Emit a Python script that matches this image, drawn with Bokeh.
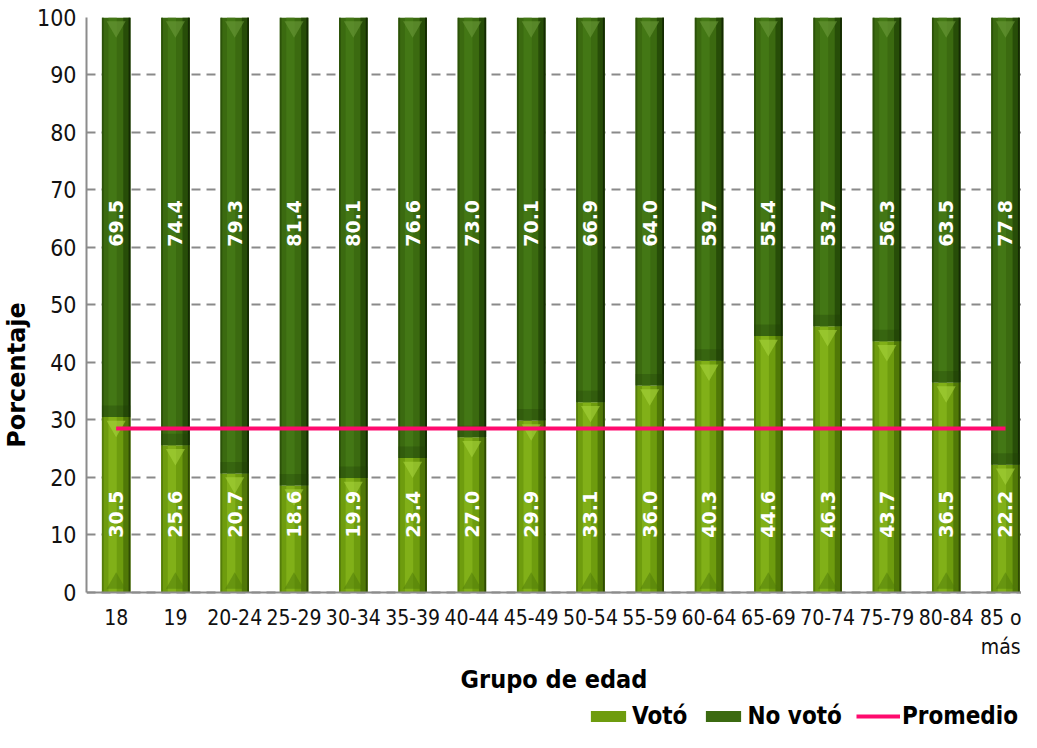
import math
from bokeh.plotting import figure
from bokeh.models import ColumnDataSource, Legend, LegendItem, Range1d
from bokeh.transform import dodge
from bokeh.core.properties import value
from bokeh.embed import file_html
from bokeh.resources import INLINE

grupos = ["18", "19", "20-24", "25-29", "30-34", "35-39", "40-44", "45-49",
          "50-54", "55-59", "60-64", "65-69", "70-74", "75-79", "80-84", "85 o más"]
voto = [30.5, 25.6, 20.7, 18.6, 19.9, 23.4, 27.0, 29.9,
        33.1, 36.0, 40.3, 44.6, 46.3, 43.7, 36.5, 22.2]
no_voto = [69.5, 74.4, 79.3, 81.4, 80.1, 76.6, 73.0, 70.1,
           66.9, 64.0, 59.7, 55.4, 53.7, 56.3, 63.5, 77.8]
promedio = 28.5
y_ticks = [0, 10, 20, 30, 40, 50, 60, 70, 80, 90, 100]

n = len(grupos)
xs = list(range(n))
total = [v + q for v, q in zip(voto, no_voto)]
src = ColumnDataSource(dict(
    x=xs, voto=voto, no_voto=no_voto, total=total,
    voto_lbl=[f"{v:.1f}" for v in voto],
    no_lbl=[f"{q:.1f}" for q in no_voto],
    prom=[promedio] * n,
    zero=[0] * n,
))

NARROW = "DejaVu Sans Condensed, Liberation Sans, sans-serif"

# the frame extends below 0 so that axis texts and legend live inside it
p = figure(width=1021, height=732, output_backend="svg", toolbar_location=None,
           x_range=Range1d(-0.5, 15.27), y_range=Range1d(-24.35, 100),
           min_border_left=86, min_border_right=0, min_border_top=17,
           min_border_bottom=0)
p.outline_line_color = None
p.background_fill_color = "white"

# grid
p.xgrid.visible = False
p.ygrid.ticker = y_ticks
p.ygrid.grid_line_color = "#8a8a8a"
p.ygrid.grid_line_width = 2
p.ygrid.grid_line_dash = "9 6"

# axes
p.yaxis.ticker = y_ticks
p.yaxis.bounds = (0, 100)
p.xaxis.ticker = xs
p.xaxis.fixed_location = 0
p.xaxis.major_label_overrides = {i: g.replace(" o ", " o\n") for i, g in enumerate(grupos)}
for ax in (p.xaxis[0], p.yaxis[0]):
    ax.axis_line_color = "#8c8c8c"
    ax.axis_line_width = 2
    ax.major_tick_line_color = None
    ax.minor_tick_line_color = None
    ax.major_tick_out = 0
    ax.major_tick_in = 0
    ax.major_label_text_font = NARROW
    ax.major_label_text_color = "#111111"
    ax.axis_label_text_color = "black"
    ax.axis_label_text_font_style = "bold"
p.yaxis.major_label_text_font_size = "23px"
p.yaxis.major_label_standoff = 10
p.xaxis.major_label_text_font_size = "21px"
p.xaxis.major_label_standoff = 14
p.yaxis.axis_label = "Porcentaje"
p.yaxis.axis_label_text_font = "DejaVu Sans"
p.yaxis.axis_label_text_font_size = "24px"
p.yaxis.axis_label_standoff = 3
p.xaxis.axis_label = "Grupo de edad"
p.xaxis.axis_label_text_font = NARROW
p.xaxis.axis_label_text_font_size = "25px"
p.xaxis.axis_label_standoff = 3

W = 0.48
# Votó bars with cylinder shading
r_voto = p.vbar(x="x", bottom="zero", top="voto", width=W, source=src,
                fill_color="#6e9c0e", line_color=None)
p.vbar(x=dodge("x", -0.06), bottom="zero", top="voto", width=0.14, source=src,
       fill_color="#86b51c", line_color=None, fill_alpha=0.8)
p.vbar(x=dodge("x", 0.18), bottom="zero", top="voto", width=0.12, source=src,
       fill_color="#4d7407", line_color=None, fill_alpha=0.9)
p.vbar(x=dodge("x", 0.225), bottom="zero", top="voto", width=0.03, source=src,
       fill_color="#2f4a03", line_color=None)
p.vbar(x=dodge("x", -0.225), bottom="zero", top="voto", width=0.03, source=src,
       fill_color="#557d0a", line_color=None)

# No votó bars
r_no = p.vbar(x="x", bottom="voto", top="total", width=W, source=src,
              fill_color="#3b6a10", line_color=None)
p.vbar(x=dodge("x", -0.06), bottom="voto", top="total", width=0.14, source=src,
       fill_color="#467a16", line_color=None, fill_alpha=0.8)
p.vbar(x=dodge("x", 0.18), bottom="voto", top="total", width=0.12, source=src,
       fill_color="#264a08", line_color=None, fill_alpha=0.9)
p.vbar(x=dodge("x", 0.225), bottom="voto", top="total", width=0.03, source=src,
       fill_color="#142a03", line_color=None)
p.vbar(x=dodge("x", -0.225), bottom="voto", top="total", width=0.03, source=src,
       fill_color="#2c5209", line_color=None)
# soft shadow at the base of the No votó segment
p.vbar(x="x", bottom="voto", top=dodge("voto", 2.0), width=W, source=src,
       fill_color="#1f3a06", line_color=None, fill_alpha=0.3)

# bevel triangles at segment tops and at the base
p.scatter(x="x", y=dodge("voto", -1.6), source=src, marker="inverted_triangle",
          size=19, fill_color="#a6d43c", line_color=None, fill_alpha=0.6)
p.scatter(x="x", y=dodge("total", -1.6), source=src, marker="inverted_triangle",
          size=19, fill_color="#6a9a38", line_color=None, fill_alpha=0.6)
p.scatter(x="x", y=dodge("zero", 1.6), source=src, marker="triangle",
          size=19, fill_color="#4e7a08", line_color=None, fill_alpha=0.5)

# value labels
p.text(x="x", y=13.6, text="voto_lbl", source=src, angle=math.pi / 2,
       text_align="center", text_baseline="middle", text_color="white",
       text_font=value("DejaVu Sans"), text_font_size="19px",
       text_font_style="bold")
p.text(x="x", y=64.2, text="no_lbl", source=src, angle=math.pi / 2,
       text_align="center", text_baseline="middle", text_color="white",
       text_font=value("DejaVu Sans"), text_font_size="19px",
       text_font_style="bold")

# average line
r_prom = p.line(x="x", y="prom", source=src, line_color="#ff0a6e", line_width=4)

legend = Legend(items=[
    LegendItem(label="Votó", renderers=[r_voto]),
    LegendItem(label="No votó", renderers=[r_no]),
    LegendItem(label="Promedio", renderers=[r_prom]),
], orientation="horizontal", location=(500, 2))
legend.label_text_font = NARROW
legend.label_text_font_size = "24px"
legend.label_text_font_style = "bold"
legend.label_text_color = "black"
legend.glyph_width = 44
legend.glyph_height = 14
legend.label_standoff = 2
legend.spacing = 14
legend.padding = 0
legend.margin = 0
legend.border_line_color = None
legend.background_fill_alpha = 0
p.add_layout(legend, "center")

open("out.html", "w").write(file_html(p, INLINE))
